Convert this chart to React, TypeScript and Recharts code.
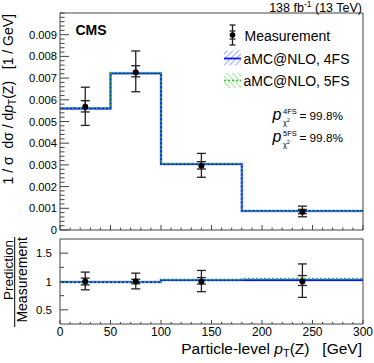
import React from 'react';
import { ComposedChart, Line, Scatter, XAxis, YAxis, ErrorBar } from 'recharts';

// ---------- data ----------
const binEdges = [0, 50, 100, 180, 300];
const binCenters = [25, 75, 140, 240];

const measurement = [0.00568, 0.00727, 0.00296, 0.00084];
const totalHigh = [0.00658, 0.00825, 0.00353, 0.0011];
const totalLow = [0.00482, 0.00637, 0.00243, 0.00061];
const statHigh = [0.00596, 0.00757, 0.00315, 0.00095];
const statLow = [0.00544, 0.00706, 0.00281, 0.00075];
const pred4FS = [0.0056, 0.00722, 0.00304, 0.00088];
const pred5FS = [0.00562, 0.00725, 0.00305, 0.00089];

const ratioMeasurement = [1, 1, 1, 1];
const ratioTotalHigh = [1.166, 1.148, 1.195, 1.31];
const ratioTotalLow = [0.853, 0.87, 0.82, 0.72];
const ratioStatHigh = [1.06, 1.04, 1.07, 1.105];
const ratioStatLow = [0.94, 0.96, 0.955, 0.93];
const ratio4FS = [0.99, 0.99, 1.025, 1.025];
const ratio5FS = [0.985, 0.985, 1.03, 1.053];

const xMajorTicks = [0, 50, 100, 150, 200, 250, 300];
const mainYMajorTicks = [0, 0.001, 0.002, 0.003, 0.004, 0.005, 0.006, 0.007, 0.008, 0.009];
const ratioYMajorTicks = [0.5, 1, 1.5];

const legendLabels = ['Measurement', 'aMC@NLO, 4FS', 'aMC@NLO, 5FS'];
const pValues = ['99.8%', '99.8%'];
const pSchemes = ['4FS', '5FS'];

// ---------- derived tables ----------
const xTicksAll: number[] = [];
for (let i = 0; i <= 30; i++) xTicksAll.push(i * 10);
const mainYTicksAll: number[] = [];
for (let i = 0; i <= 50; i++) mainYTicksAll.push(Number((i * 0.0002).toFixed(4)));
const ratioYTicksAll = [0.5, 0.75, 1, 1.25, 1.5];

const stepData = (vals: number[]) =>
  binEdges.map((e, i) => ({ x: e, y: vals[Math.min(i, vals.length - 1)] }));

const pointData = (c: number[], v: number[], th: number[], tl: number[], sh: number[], sl: number[]) =>
  c.map((x, i) => ({
    x,
    y: v[i],
    eTot: [v[i] - tl[i], th[i] - v[i]],
    eStat: [v[i] - sl[i], sh[i] - v[i]],
  }));

const mainPoints = pointData(binCenters, measurement, totalHigh, totalLow, statHigh, statLow);
const ratioPoints = pointData(binCenters, ratioMeasurement, ratioTotalHigh, ratioTotalLow, ratioStatHigh, ratioStatLow);

const FONT = '"Liberation Sans", Arial, Helvetica, sans-serif';
const FRAME = '#444';
const BLUE = '#0a14ff';
const BAND = '#bccaff';
const GREEN = '#22cc22';

const isIn = (arr: number[], v: number) => arr.some((a) => Math.abs(a - v) < 1e-9);

type TickOpts = {
  side: 'bottom' | 'top' | 'left' | 'right';
  majors: number[];
  majorLen: number;
  minorLen: number;
  label?: (v: number) => string;
  fontSize?: number;
  gap?: number;
  labelDy?: number;
};

const makeTick = (o: TickOpts) => (props: any) => {
  const { x, y, payload } = props;
  const v = payload.value;
  const major = isIn(o.majors, v);
  const len = major ? o.majorLen : o.minorLen;
  let x2 = x;
  let y2 = y;
  if (o.side === 'bottom') y2 = y - len;
  if (o.side === 'top') y2 = y + len;
  if (o.side === 'left') x2 = x + len;
  if (o.side === 'right') x2 = x - len;
  let txt: any = null;
  if (major && o.label) {
    const s = o.label(v);
    if (o.side === 'left') {
      txt = (
        <text x={x - (o.gap ?? 3)} y={y} dy="0.36em" textAnchor="end" fontSize={o.fontSize ?? 11} fontFamily={FONT} fill="#000">
          {s}
        </text>
      );
    } else if (o.side === 'bottom') {
      txt = (
        <text x={x} y={y + (o.labelDy ?? 11)} textAnchor="middle" fontSize={o.fontSize ?? 11} fontFamily={FONT} fill="#000">
          {s}
        </text>
      );
    }
  }
  return (
    <g>
      <line x1={x} y1={y} x2={x2} y2={y2} stroke={FRAME} strokeWidth={1} />
      {txt}
    </g>
  );
};

const Dot = (p: any) => <circle cx={p.cx} cy={p.cy} r={3} fill="#000" />;

const W = 374;
const H = 363;

const MainPanel = () => (
  <ComposedChart width={W} height={H} margin={{ top: 0, right: 0, bottom: 0, left: 0 }}>
    <XAxis xAxisId={0} dataKey="x" type="number" domain={[0, 300]} ticks={xTicksAll} interval={0}
      orientation="bottom" height={133} tickSize={0} tickMargin={0} tickLine={false}
      axisLine={{ stroke: FRAME }} tick={makeTick({ side: 'bottom', majors: xMajorTicks, majorLen: 5, minorLen: 2.5 })} />
    <XAxis xAxisId="top" dataKey="x" type="number" domain={[0, 300]} ticks={xTicksAll} interval={0}
      orientation="top" height={13} tickSize={0} tickMargin={0} tickLine={false}
      axisLine={{ stroke: FRAME }} tick={makeTick({ side: 'top', majors: xMajorTicks, majorLen: 5, minorLen: 2.5 })} />
    <YAxis yAxisId={0} type="number" domain={[0, 0.01]} ticks={mainYTicksAll} interval={0} width={60}
      orientation="left" tickSize={0} tickMargin={0} tickLine={false} allowDataOverflow
      axisLine={{ stroke: FRAME }}
      tick={makeTick({ side: 'left', majors: mainYMajorTicks, majorLen: 9, minorLen: 4.5, fontSize: 11.2, gap: 3,
        label: (v) => (v === 0 ? '0' : v.toFixed(3)) })} />
    <YAxis yAxisId="right" type="number" domain={[0, 0.01]} ticks={mainYTicksAll} interval={0} width={11}
      orientation="right" tickSize={0} tickMargin={0} tickLine={false}
      axisLine={{ stroke: FRAME }} tick={makeTick({ side: 'right', majors: mainYMajorTicks, majorLen: 9, minorLen: 4.5 })} />
    <Line data={stepData(pred4FS)} dataKey="y" type="stepAfter" stroke={BAND} strokeWidth={3} dot={false} activeDot={false} isAnimationActive={false} />
    <Line data={stepData(pred4FS)} dataKey="y" type="stepAfter" stroke={BLUE} strokeWidth={1.8} dot={false} activeDot={false} isAnimationActive={false} />
    <Line data={stepData(pred5FS)} dataKey="y" type="stepAfter" stroke={GREEN} strokeWidth={1.5} strokeDasharray="2 2" dot={false} activeDot={false} isAnimationActive={false} />
    <Scatter data={mainPoints} dataKey="y" shape={Dot} isAnimationActive={false}>
      <ErrorBar dataKey="eTot" direction="y" width={4.5} stroke="#222" strokeWidth={1.3} />
      <ErrorBar dataKey="eStat" direction="y" width={4.5} stroke="#222" strokeWidth={1.3} />
    </Scatter>
  </ComposedChart>
);

const RatioPanel = () => (
  <ComposedChart width={W} height={H} margin={{ top: 0, right: 0, bottom: 0, left: 0 }}>
    <XAxis xAxisId={0} dataKey="x" type="number" domain={[0, 300]} ticks={xTicksAll} interval={0}
      orientation="bottom" height={39} tickSize={0} tickMargin={0} tickLine={false}
      axisLine={{ stroke: FRAME }}
      tick={makeTick({ side: 'bottom', majors: xMajorTicks, majorLen: 4, minorLen: 2, fontSize: 12, labelDy: 11.5,
        label: (v) => String(v) })} />
    <XAxis xAxisId="top" dataKey="x" type="number" domain={[0, 300]} ticks={xTicksAll} interval={0}
      orientation="top" height={239} tickSize={0} tickMargin={0} tickLine={false}
      axisLine={{ stroke: FRAME }} tick={makeTick({ side: 'top', majors: xMajorTicks, majorLen: 4, minorLen: 2 })} />
    <YAxis yAxisId={0} type="number" domain={[0.25, 1.75]} ticks={ratioYTicksAll} interval={0} width={60}
      orientation="left" tickSize={0} tickMargin={0} tickLine={false} allowDataOverflow
      axisLine={{ stroke: FRAME }}
      tick={makeTick({ side: 'left', majors: ratioYMajorTicks, majorLen: 8, minorLen: 4, fontSize: 11.5, gap: 8,
        label: (v) => String(v) })} />
    <YAxis yAxisId="right" type="number" domain={[0.25, 1.75]} ticks={ratioYTicksAll} interval={0} width={11}
      orientation="right" tickSize={0} tickMargin={0} tickLine={false}
      axisLine={{ stroke: FRAME }} tick={makeTick({ side: 'right', majors: ratioYMajorTicks, majorLen: 8, minorLen: 4 })} />
    <Line data={stepData(ratio4FS)} dataKey="y" type="stepAfter" stroke={BAND} strokeWidth={3} dot={false} activeDot={false} isAnimationActive={false} />
    <Line data={stepData(ratio4FS)} dataKey="y" type="stepAfter" stroke={BLUE} strokeWidth={1.8} dot={false} activeDot={false} isAnimationActive={false} />
    <Line data={stepData(ratio5FS)} dataKey="y" type="stepAfter" stroke={GREEN} strokeWidth={1.5} strokeDasharray="2 2" dot={false} activeDot={false} isAnimationActive={false} />
    <Scatter data={ratioPoints} dataKey="y" shape={Dot} isAnimationActive={false}>
      <ErrorBar dataKey="eTot" direction="y" width={4.5} stroke="#222" strokeWidth={1.3} />
      <ErrorBar dataKey="eStat" direction="y" width={4.5} stroke="#222" strokeWidth={1.3} />
    </Scatter>
  </ComposedChart>
);

const Annotations = () => (
  <svg width={W} height={H} style={{ position: 'absolute', left: 0, top: 0, pointerEvents: 'none' }} fontFamily={FONT}>
    <defs>
      <pattern id="hatch4" width="4" height="4" patternUnits="userSpaceOnUse" patternTransform="rotate(45)">
        <line x1="0" y1="0" x2="0" y2="4" stroke="#5a6cff" strokeWidth="1.2" />
      </pattern>
      <pattern id="hatch5" width="4" height="4" patternUnits="userSpaceOnUse" patternTransform="rotate(-45)">
        <line x1="0" y1="0" x2="0" y2="4" stroke="#5ad85a" strokeWidth="1.2" />
      </pattern>
    </defs>
    {/* lumi */}
    <text x={362} y={11.5} textAnchor="end" fontSize={12.5} fill="#000">
      138 fb<tspan fontSize={8.5} dy={-4.5}>-1</tspan><tspan dy={4.5}> (13 TeV)</tspan>
    </text>
    {/* CMS */}
    <text x={75.5} y={35} fontSize={14} fontWeight="bold" fill="#000">CMS</text>

    {/* legend: measurement */}
    <g stroke="#222" strokeWidth={1.3}>
      <line x1={232.5} y1={25} x2={232.5} y2={45} />
      <line x1={229.5} y1={25} x2={235.5} y2={25} />
      <line x1={229.5} y1={45} x2={235.5} y2={45} />
      <line x1={229.5} y1={31} x2={235.5} y2={31} />
      <line x1={229.5} y1={39} x2={235.5} y2={39} />
    </g>
    <circle cx={232.5} cy={35} r={2.8} fill="#000" />
    <text x={244.5} y={40.5} fontSize={14} fill="#000">{legendLabels[0]}</text>
    {/* legend: 4FS */}
    <rect x={224} y={50.5} width={17} height={15} fill="url(#hatch4)" />
    <line x1={224} y1={58.5} x2={241} y2={58.5} stroke={BLUE} strokeWidth={1.8} />
    <text x={243.5} y={63.5} fontSize={14} fill="#000">{legendLabels[1]}</text>
    {/* legend: 5FS */}
    <rect x={224} y={73} width={17} height={15} fill="url(#hatch5)" />
    <line x1={224} y1={80.5} x2={241} y2={80.5} stroke={GREEN} strokeWidth={1.5} strokeDasharray="2 2" />
    <text x={243.5} y={86} fontSize={14} fill="#000">{legendLabels[2]}</text>

    {/* p-values */}
    {[119.5, 141.5].map((by, i) => (
      <g key={i}>
        <text x={272.5} y={by} fontSize={16} fontStyle="italic" fill="#000">p</text>
        <text x={283} y={by - 6} fontSize={7.5} fill="#000">{pSchemes[i]}</text>
        <text x={283} y={by + 5} fontSize={7.5} fill="#000">χ<tspan fontSize={5} dy={-3}>2</tspan></text>
        <text x={343} y={by} textAnchor="end" fontSize={11.8} fill="#000" style={{ whiteSpace: 'pre' }}>= {pValues[i]}</text>
      </g>
    ))}

    {/* main y title */}
    <text transform="rotate(-90)" x={-14} y={13} textAnchor="end" fontSize={14} fill="#000" style={{ whiteSpace: 'pre' }}>
      {'1 / σ  dσ / d'}<tspan fontStyle="italic">p</tspan><tspan fontSize={10} dy={3}>T</tspan><tspan dy={-3}>{'(Z)   [1 / GeV]'}</tspan>
    </text>

    {/* ratio y title */}
    <text transform="rotate(-90)" x={-240} y={12.5} textAnchor="end" fontSize={13.5} fill="#000">Prediction</text>
    <line x1={14.7} y1={237} x2={14.7} y2={327} stroke="#000" strokeWidth={1} />
    <text transform="rotate(-90)" x={-237} y={27} textAnchor="end" fontSize={14} fill="#000">Measurement</text>

    {/* x title */}
    <text x={362} y={354} textAnchor="end" fontSize={15.5} fill="#000" style={{ whiteSpace: 'pre' }}>
      {'Particle-level '}<tspan fontStyle="italic">p</tspan><tspan fontSize={11} dy={3}>T</tspan><tspan dy={-3}>{'(Z)   [GeV]'}</tspan>
    </text>
  </svg>
);

export default function App() {
  return (
    <div style={{ position: 'absolute', left: 0, top: 0, width: W, height: H, background: '#fff' }}>
      <div style={{ position: 'absolute', left: 0, top: 0 }}>
        <MainPanel />
      </div>
      <div style={{ position: 'absolute', left: 0, top: 0 }}>
        <RatioPanel />
      </div>
      <Annotations />
    </div>
  );
}
